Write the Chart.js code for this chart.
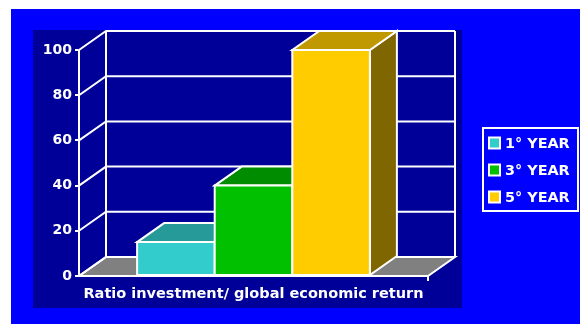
<!DOCTYPE html>
<html><head><meta charset="utf-8">
<script src="https://cdn.jsdelivr.net/npm/chart.js@4/dist/chart.umd.min.js"></script>
<style>html,body{margin:0;padding:0;background:#fff;overflow:hidden}#wrap{width:580px;height:324px}</style>
</head><body><div id="wrap"><canvas id="c" width="580" height="324"></canvas></div>
<script>
const categories = ['Ratio investment/ global economic return'];
const seriesNames = ['1° YEAR', '3° YEAR', '5° YEAR'];
const year1 = [15];
const year3 = [40];
const year5 = [100];
const yTicks = [0, 20, 40, 60, 80, 100];
const frontColors = ['#33CCCC', '#00C000', '#FFCC00'];
const topColors = ['#269999', '#008C00', '#C09900'];
const sideColors = ['#1A6666', '#006000', '#806600'];

const DX = 27, DY = 19;
const FONT = 'DejaVu Sans';

const threeD = {
  id: 'threeD',
  beforeDraw(chart) {
    const ctx = chart.ctx;
    ctx.save();
    ctx.fillStyle = '#FFFFFF'; ctx.fillRect(0, 0, 580, 324);
    ctx.fillStyle = '#0000FF'; ctx.fillRect(11, 9, 569, 315);
    ctx.fillStyle = '#000099'; ctx.fillRect(33, 30, 429, 278);
    ctx.restore();
  },
  beforeDatasetsDraw(chart) {
    const { ctx, chartArea: a, scales: { y } } = chart;
    ctx.save();
    ctx.strokeStyle = '#FFFFFF'; ctx.lineWidth = 2; ctx.lineJoin = 'miter';
    const b = y.getPixelForValue(0);
    const t = y.getPixelForValue(100);
    ctx.fillStyle = '#808080';
    ctx.beginPath();
    ctx.moveTo(a.left, b); ctx.lineTo(a.right, b); ctx.lineTo(a.right + DX, b - DY); ctx.lineTo(a.left + DX, b - DY);
    ctx.closePath(); ctx.fill(); ctx.stroke();
    yTicks.forEach(v => {
      const p = y.getPixelForValue(v);
      ctx.beginPath(); ctx.moveTo(a.left, p); ctx.lineTo(a.left + DX, p - DY); ctx.lineTo(a.right + DX, p - DY); ctx.stroke();
    });
    ctx.beginPath();
    ctx.moveTo(a.left + DX, t - DY); ctx.lineTo(a.left + DX, b - DY);
    ctx.moveTo(a.right + DX, t - DY); ctx.lineTo(a.right + DX, b - DY);
    ctx.stroke();
    ctx.restore();
  },
  afterDatasetsDraw(chart) {
    const ctx = chart.ctx;
    ctx.save();
    ctx.strokeStyle = '#FFFFFF'; ctx.lineWidth = 2;
    chart.data.datasets.forEach((ds, i) => {
      const meta = chart.getDatasetMeta(i);
      meta.data.forEach(bar => {
        const p = bar.getProps(['x', 'y', 'base', 'width'], true);
        const l = p.x - p.width / 2, r = p.x + p.width / 2, top = p.y, base = p.base;
        ctx.fillStyle = sideColors[i];
        ctx.beginPath(); ctx.moveTo(r, top); ctx.lineTo(r + DX, top - DY); ctx.lineTo(r + DX, base - DY); ctx.lineTo(r, base); ctx.closePath(); ctx.fill(); ctx.stroke();
        ctx.fillStyle = topColors[i];
        ctx.beginPath(); ctx.moveTo(l, top); ctx.lineTo(r, top); ctx.lineTo(r + DX, top - DY); ctx.lineTo(l + DX, top - DY); ctx.closePath(); ctx.fill(); ctx.stroke();
        ctx.fillStyle = frontColors[i];
        ctx.beginPath(); ctx.rect(l, top, r - l, base - top); ctx.fill(); ctx.stroke();
      });
    });
    ctx.restore();
  },
  afterDraw(chart) {
    const ctx = chart.ctx;
    ctx.save();
    ctx.strokeStyle = '#FFFFFF'; ctx.lineWidth = 2;
    ctx.strokeRect(483, 128, 95, 83);
    const rows = [143, 170, 197];
    ctx.font = 'bold 14.4px "' + FONT + '"';
    ctx.textBaseline = 'middle'; ctx.textAlign = 'left';
    chart.data.datasets.forEach((ds, i) => {
      const yy = rows[i];
      ctx.fillStyle = frontColors[i];
      ctx.fillRect(489, yy - 5.5, 11, 11);
      ctx.strokeRect(489, yy - 5.5, 11, 11);
      ctx.fillStyle = '#FFFFFF';
      ctx.fillText(ds.label, 505, yy + 1);
    });
    ctx.restore();
  }
};

Chart.defaults.font.family = FONT;

new Chart(document.getElementById('c'), {
  type: 'bar',
  data: {
    labels: categories,
    datasets: [
      { label: seriesNames[0], data: year1 },
      { label: seriesNames[1], data: year3 },
      { label: seriesNames[2], data: year5 }
    ].map((d, i) => Object.assign(d, { backgroundColor: frontColors[i], borderColor: '#FFFFFF', borderWidth: 0 }))
  },
  options: {
    responsive: false,
    animation: false,
    devicePixelRatio: 1,
    layout: { padding: { top: 50, right: 152, bottom: 0, left: 0 } },
    datasets: { bar: { barPercentage: 1, categoryPercentage: 0.667 } },
    plugins: { legend: { display: false }, tooltip: { enabled: false } },
    scales: {
      x: {
        afterFit: s => { s.height = 48; },
        grid: { display: true, offset: true, drawOnChartArea: false, drawTicks: true, tickLength: 5, lineWidth: 2,
                color: c => (c.index === 0 ? 'rgba(0,0,0,0)' : '#FFFFFF') },
        border: { display: false },
        ticks: { color: '#FFFFFF', font: { size: 14.5, weight: 'bold' }, padding: 5, maxRotation: 0, autoSkip: false }
      },
      y: {
        min: 0, max: 100,
        afterFit: s => { s.width = 79; },
        afterBuildTicks: s => { s.ticks = yTicks.map(v => ({ value: v })); },
        grid: { display: true, drawOnChartArea: false, drawTicks: true, tickLength: 4, color: '#FFFFFF', lineWidth: 2 },
        border: { display: true, color: '#FFFFFF', width: 2 },
        ticks: { color: '#FFFFFF', font: { size: 14, weight: 'bold' }, padding: 3 }
      }
    }
  },
  plugins: [threeD]
});
</script></body></html>
